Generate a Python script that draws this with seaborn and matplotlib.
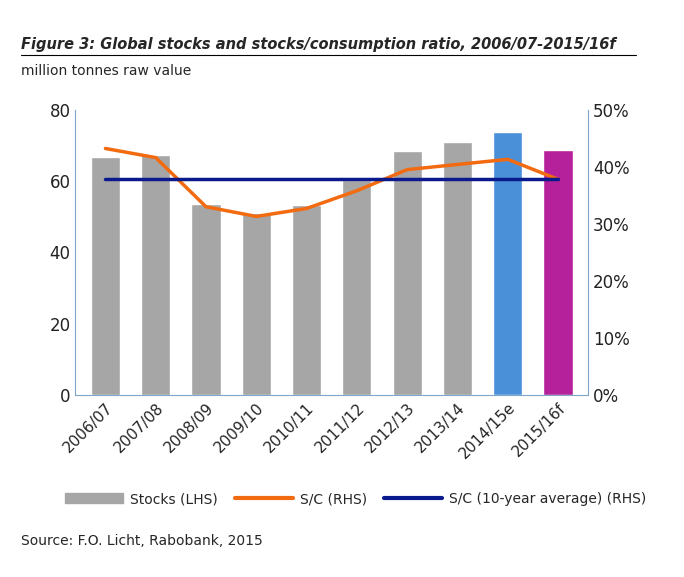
import matplotlib
matplotlib.use("Agg")
import matplotlib.pyplot as plt
import seaborn as sns
import pandas as pd
import numpy as np
from matplotlib.patches import Patch
from matplotlib.lines import Line2D

years = ["2006/07", "2007/08", "2008/09", "2009/10", "2010/11",
         "2011/12", "2012/13", "2013/14", "2014/15e", "2015/16f"]
stocks = [66.6, 67.4, 53.7, 51.0, 53.4, 60.4, 68.5, 71.0, 73.8, 68.8]
sc_ratio = [43.2, 41.6, 33.0, 31.3, 32.7, 35.8, 39.5, 40.4, 41.3, 37.8]
sc_avg = [37.8] * 10
bar_colors = ["#a6a6a6"] * 8 + ["#4a90d9", "#b5219a"]

sns.set_style("white")
plt.rcParams['font.family'] = ['DejaVu Sans']

fig = plt.figure(figsize=(6.84, 5.77), dpi=100)
ax = fig.add_axes([0.11, 0.315, 0.75, 0.495])
df = pd.DataFrame({"year": years, "stocks": stocks})
sns.barplot(data=df, x="year", y="stocks", hue="year", palette=bar_colors,
            legend=False, width=0.58, ax=ax, saturation=1)
ax.set_ylim(0, 80)
ax.set_yticks(range(0, 81, 20))
ax.set_xlabel("")
ax.set_ylabel("")
ax.tick_params(axis="y", labelsize=12, colors="#222222", length=0)
ax.tick_params(axis="x", labelsize=11, rotation=45, length=0)
for lab in ax.get_xticklabels():
    lab.set_ha("right")
    lab.set_rotation_mode("anchor")
for s in ["top", "right"]:
    ax.spines[s].set_visible(False)
for s in ["left", "bottom"]:
    ax.spines[s].set_color("#7fa6c9")

ax2 = ax.twinx()
x = np.arange(len(years))
ax2.plot(x, sc_ratio, color="#f26b10", lw=2.5)
ax2.plot(x, sc_avg, color="#0a1a8c", lw=2.5)
ax2.set_ylim(0, 50)
ax2.set_yticks(range(0, 51, 10))
ax2.set_yticklabels([f"{v}%" for v in range(0, 51, 10)])
ax2.tick_params(axis="y", labelsize=12, colors="#222222", length=0)
for s in ["top", "left", "bottom"]:
    ax2.spines[s].set_visible(False)
ax2.spines["right"].set_color("#7fa6c9")
ax.set_xlim(-0.6, 9.6)

fig.text(0.03, 0.915, "Figure 3: Global stocks and stocks/consumption ratio, 2006/07-2015/16f",
         fontsize=10.5, fontweight="bold", style="italic")
fig.add_artist(plt.Line2D([0.03, 0.93], [0.905, 0.905], color="black", lw=0.8))
fig.text(0.03, 0.87, "million tonnes raw value", fontsize=10)

handles = [Patch(color="#a6a6a6", label="Stocks (LHS)"),
           Line2D([], [], color="#f26b10", lw=3, label="S/C (RHS)"),
           Line2D([], [], color="#0a1a8c", lw=3, label="S/C (10-year average) (RHS)")]
fig.legend(handles=handles, loc="center", bbox_to_anchor=(0.52, 0.135), ncol=3,
           frameon=False, fontsize=10, handlelength=4.2, columnspacing=1.2,
           handletextpad=0.5)
fig.text(0.03, 0.055, "Source: F.O. Licht, Rabobank, 2015", fontsize=10)

fig.savefig("out.png", dpi=100)
